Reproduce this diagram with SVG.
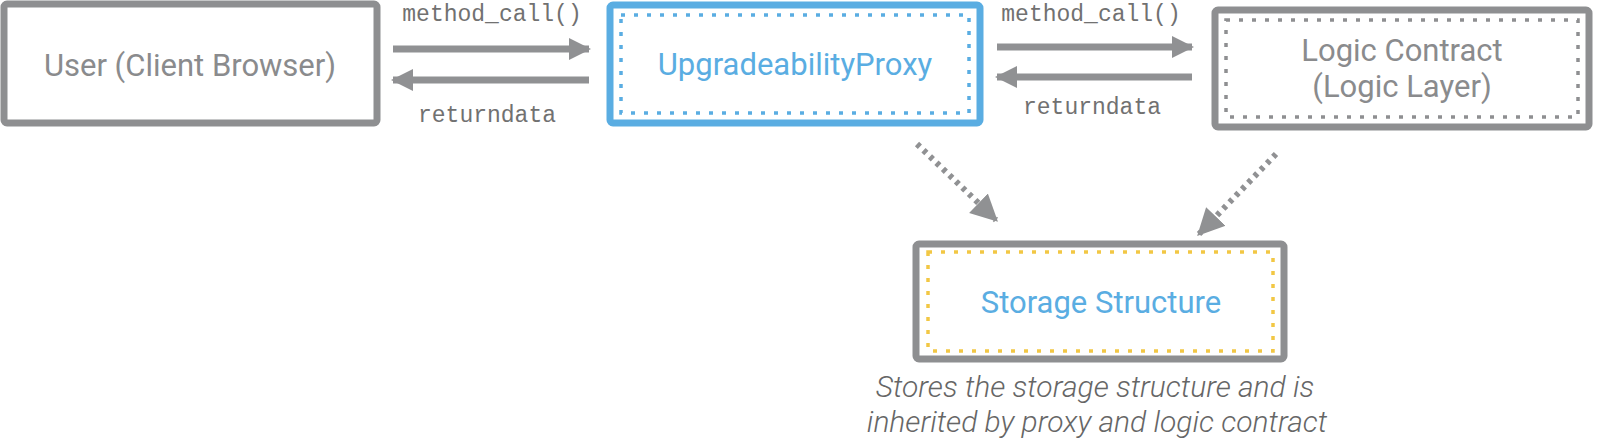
<svg xmlns="http://www.w3.org/2000/svg" width="1600" height="447" viewBox="0 0 1600 447">
<defs>
<style>
.box{fill:#fff;stroke:#8e8f91;stroke-width:7}
.inner{fill:none;stroke-width:3.5;stroke-dasharray:4 9}
.lbl{font-family:Roboto,"Liberation Sans",sans-serif;font-size:31px;font-weight:400;text-anchor:middle}
.mono{font-family:"Liberation Mono",monospace;font-size:23px;fill:#717171;text-anchor:middle}
.arr{stroke:#909193;stroke-width:7;fill:none}
.dot{stroke:#909193;stroke-width:6;fill:none;stroke-dasharray:4 5}
.cap{font-family:Roboto,"Liberation Sans",sans-serif;font-size:30px;font-style:italic;font-weight:300;fill:#666;text-anchor:middle}
</style>
<marker id="ah" viewBox="0 0 10 10" refX="9" refY="5" markerWidth="3.2" markerHeight="3.6" orient="auto" markerUnits="strokeWidth">
<path d="M0,0 L10,5 L0,10 Z" fill="#909193"/>
</marker>
<marker id="ah2" viewBox="0 0 10 10" refX="9" refY="5" markerWidth="4.5" markerHeight="5" orient="auto" markerUnits="strokeWidth">
<path d="M0,0 L10,5 L0,10 Z" fill="#909193"/>
</marker>
</defs>
<g id="user">
<rect class="box" x="4" y="4" width="373" height="119" rx="3"/>
<text class="lbl" x="190" y="76" fill="#8a8b8d">User (Client Browser)</text>
</g>
<g id="proxy">
<rect class="box" x="610" y="5" width="370" height="118" rx="3" style="stroke:#5aade2"/>
<rect class="inner" x="621" y="15" width="348" height="98" style="stroke:#5aade2"/>
<text class="lbl" x="795" y="75" fill="#5aade2">UpgradeabilityProxy</text>
</g>
<g id="logic">
<rect class="box" x="1215" y="10" width="374" height="117" rx="3"/>
<rect class="inner" x="1226" y="20" width="352" height="97" style="stroke:#8e8f91"/>
<text class="lbl" x="1402" y="61" fill="#8a8b8d">Logic Contract</text>
<text class="lbl" x="1402" y="97" fill="#8a8b8d">(Logic Layer)</text>
</g>
<g id="storage">
<rect class="box" x="916" y="244" width="368" height="115" rx="3"/>
<rect class="inner" x="928" y="252" width="345" height="99" style="stroke:#f2c744"/>
<text class="lbl" x="1101" y="313" fill="#5aade2">Storage Structure</text>
</g>
<g id="connectors">
<line class="arr" x1="393" y1="49" x2="589" y2="49" marker-end="url(#ah)"/>
<line class="arr" x1="589" y1="80" x2="393" y2="80" marker-end="url(#ah)"/>
<line class="arr" x1="997" y1="47" x2="1192" y2="47" marker-end="url(#ah)"/>
<line class="arr" x1="1192" y1="77" x2="997" y2="77" marker-end="url(#ah)"/>
<line class="dot" x1="917" y1="144" x2="996" y2="220" marker-end="url(#ah2)"/>
<line class="dot" x1="1276" y1="154" x2="1199" y2="234" marker-end="url(#ah2)"/>
</g>
<g id="labels">
<text class="mono" x="492" y="21">method_call()</text>
<text class="mono" x="487" y="122">returndata</text>
<text class="mono" x="1091" y="21">method_call()</text>
<text class="mono" x="1092" y="114">returndata</text>
<text class="cap" x="1095" y="397">Stores the storage structure and is</text>
<text class="cap" x="1097" y="432">inherited by proxy and logic contract</text>
</g>
</svg>
